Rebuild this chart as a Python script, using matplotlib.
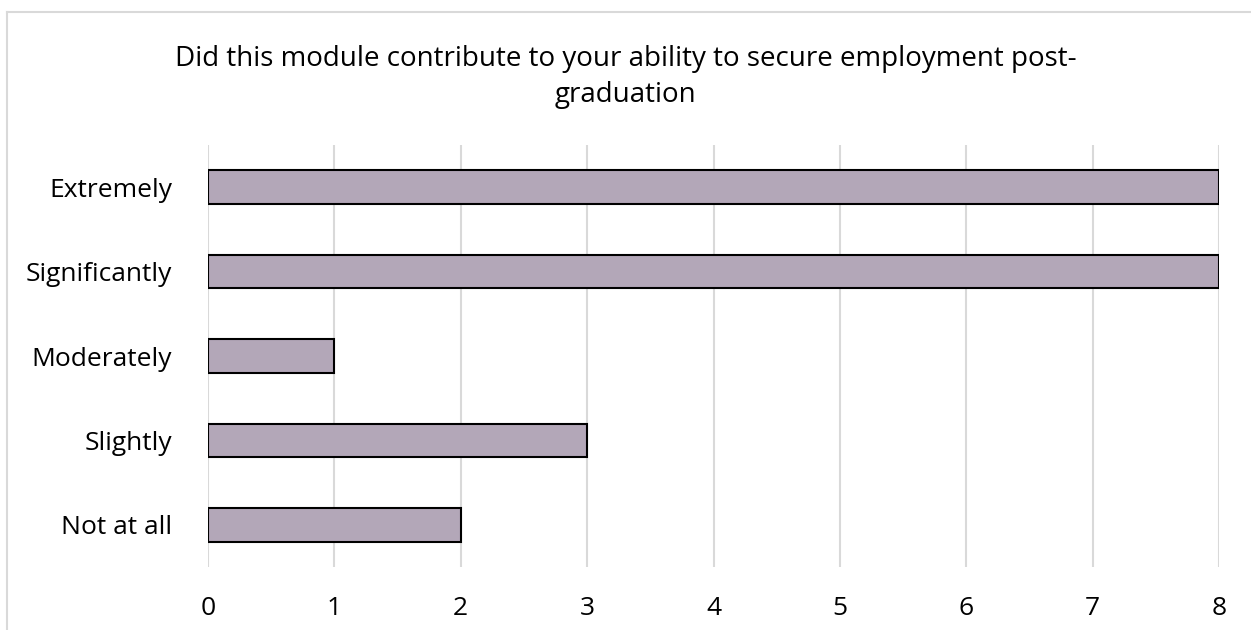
import matplotlib.pyplot as plt
from matplotlib.lines import Line2D

plt.rcParams['font.family'] = ['Open Sans', 'DejaVu Sans']

categories = ['Not at all', 'Slightly', 'Moderately', 'Significantly', 'Extremely']
counts = [2, 3, 1, 8, 8]
title = 'Did this module contribute to your ability to secure employment post-\ngraduation'

fig = plt.figure(figsize=(12.51, 6.30), dpi=100)
ax = fig.add_axes([0.1663, 0.1, 0.8081, 0.6698])

ax.barh(categories, counts, height=0.4, color='#b3a7b8', edgecolor='black', linewidth=1.5, zorder=3)

ax.set_xlim(0, 8)
ax.set_ylim(-0.5, 4.5)
ax.set_xticks(range(0, 9))
ax.grid(axis='x', color='#d9d9d9', linewidth=1.5, zorder=0)
ax.tick_params(length=0, labelsize=19, colors='black')
ax.tick_params(axis='y', pad=26)
ax.tick_params(axis='x', pad=21)
for s in ax.spines.values():
    s.set_visible(False)

fig.text(0.5, 0.878, title, ha='center', va='center', fontsize=20, linespacing=1.4)

# chart border (only top and left edges show in the crop)
fig.add_artist(Line2D([0.0056, 0.0056], [0, 0.981], color='#d9d9d9', linewidth=1.5))
fig.add_artist(Line2D([0.0056, 1], [0.981, 0.981], color='#d9d9d9', linewidth=1.5))

fig.savefig('out.png', dpi=100)
